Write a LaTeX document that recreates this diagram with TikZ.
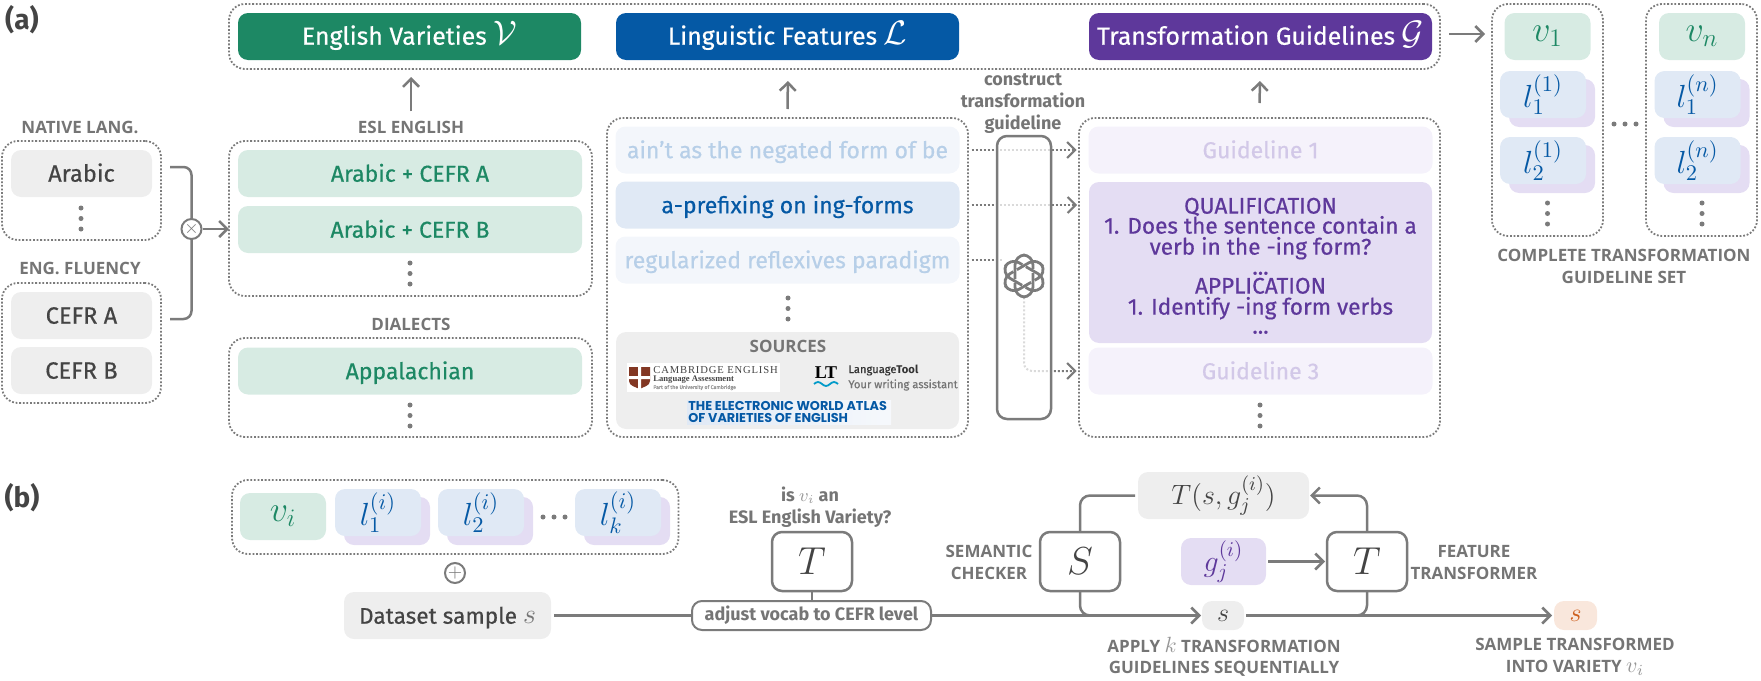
\documentclass[tikz,border=0pt]{standalone}
\usepackage{fix-cm}
\usepackage[no-math]{fontspec}
\setmainfont{Fira Sans}[UprightFeatures={RawFeature={embolden=0.5}}]
\newfontfamily\capsfont{Open Sans}
\newfontfamily\crestfont{Liberation Serif}
\newfontfamily\crestcaps[LetterSpace=8]{Liberation Serif}
\newfontfamily\atlasfont{Poppins}
\usetikzlibrary{arrows.meta, positioning, fit, shapes.geometric}
\definecolor{dkgreen}{RGB}{29,136,100}
\definecolor{dkblue}{RGB}{5,89,165}
\definecolor{dkpurple}{RGB}{94,56,155}
\definecolor{ltgreen}{RGB}{215,235,227}
\definecolor{ltblue}{RGB}{224,233,245}
\definecolor{ltpurple}{RGB}{228,221,243}
\definecolor{faintblue}{RGB}{243,246,251}
\definecolor{faintpurple}{RGB}{245,242,251}
\definecolor{fadeblue}{RGB}{183,207,232}
\definecolor{fadepurple}{RGB}{210,200,232}
\definecolor{chipgray}{RGB}{238,238,238}
\definecolor{inkgray}{RGB}{68,68,68}
\definecolor{labelgray}{RGB}{117,117,117}
\definecolor{linegray}{RGB}{123,123,123}
\definecolor{mathgray}{RGB}{150,150,150}
\definecolor{chiporange}{RGB}{249,231,220}
\definecolor{inkorange}{RGB}{205,95,30}
\definecolor{shieldred}{RGB}{130,55,35}

\begin{document}
\begin{tikzpicture}[
		x=.5pt, y=-.5pt,
		>={Straight Barb[length=4pt,width=8pt]},
		base/.style = {inner sep=0pt, outer sep=0pt, rounded corners=5pt, align=center, text height=10.6pt, text depth=2.4pt},
		headbox/.style = {base, minimum width=171.5pt, minimum height=23.5pt, text=white, font=\fontsize{12.4}{14}\selectfont},
		widebox/.style = {base, minimum width=172pt, minimum height=23.5pt, font=\fontsize{11.5}{13}\selectfont},
		chipbox/.style = {base, fill=chipgray, text=inkgray, minimum width=70.5pt, minimum height=23.5pt, font=\fontsize{11.8}{13}\selectfont},
		eslbox/.style = {widebox, fill=ltgreen, text=dkgreen},
		dotbox/.style = {draw=linegray, line width=.9pt, dash pattern=on .9pt off .9pt, rounded corners=8pt, inner sep=0pt, outer sep=0pt},
		caplabel/.style = {inner sep=0pt, text=labelgray, align=center, font=\capsfont\bfseries\fontsize{8.5}{10.7}\selectfont},
		smalllabel/.style = {inner sep=0pt, text=labelgray, align=center, font=\bfseries\fontsize{9}{11}\selectfont},
		guideline/.style = {inner sep=0pt, text=dkpurple, text height=10pt, text depth=2.4pt, font=\fontsize{11.3}{13}\selectfont},
		cardfront/.style = {base, fill=ltblue, text=dkblue, minimum width=43pt, minimum height=23.5pt, text height=, text depth=, font=\fontsize{16}{18}\selectfont},
		cardback/.style = {base, fill=ltpurple, minimum width=43pt, minimum height=24pt, text height=, text depth=},
		varcard/.style = {base, fill=ltgreen, text=dkgreen, minimum width=43pt, minimum height=23.5pt, text height=, text depth=, font=\fontsize{18}{20}\selectfont},
		opbox/.style = {draw=linegray, line width=1.25pt, fill=white, rounded corners=5pt, inner sep=0pt, outer sep=0pt, minimum width=40pt, minimum height=29.5pt, text=inkgray, font=\fontsize{19.5}{22}\selectfont},
		link/.style = {draw=linegray, line width=1.25pt},
		dotlink/.style = {draw=linegray, line width=1pt, dash pattern=on 1pt off 1pt},
		roundop/.style = {circle, draw=linegray, line width=1pt, fill=white, inner sep=0pt, minimum size=10pt, text=linegray}
		]
		\useasboundingbox (0,0) rectangle (1761,680);

		% part a, headers
		\node (panela) [inner sep=0pt, text=inkgray, font=\bfseries\fontsize{14}{16}\selectfont] at (22,20) {(a)};
		\node (toppanel) [dotbox, fit={(229,4) (1440,69)}] {};
		\node (engvar) [headbox, fill=dkgreen] at (409.5,36.5) {English Varieties~{\fontsize{17}{17}\selectfont$\mathcal{V}$}};
		\node (lingfeat) [headbox, fill=dkblue, right=17.5pt of engvar] {Linguistic Features~{\fontsize{17}{17}\selectfont$\mathcal{L}$}};
		\node (transguide) [headbox, fill=dkpurple] at (1260.5,36.5) {Transformation Guidelines~{\fontsize{17}{17}\selectfont$\mathcal{G}$}};

		% native language and fluency
		\node (nativelabel) [caplabel] at (80,127) {NATIVE LANG.};
		\node (nativepanel) [dotbox, fit={(2,141) (161,240)}] {};
		\node (arabic) [chipbox] at (81.5,173.5) {Arabic};
		\node (fluencylabel) [caplabel] at (80,268) {ENG. FLUENCY};
		\node (fluencypanel) [dotbox, fit={(2,283) (161,403)}] {};
		\node (cefra) [chipbox] at (81.5,315.5) {CEFR A};
		\node (cefrb) [chipbox, below=4pt of cefra] {CEFR B};

		\coordinate (nativeout) at (170,167);
		\coordinate (fluencyout) at (170,319);
		\node (times) [roundop] at (191.5,229) {\fontsize{9}{9}\selectfont$\times$};
		\draw[link, rounded corners=4pt] (nativeout) -| (times.north);
		\draw[link, rounded corners=4pt] (fluencyout) -| (times.south);

		% esl and dialects
		\node (esllabel) [caplabel] at (411,127) {ESL ENGLISH};
		\node (eslpanel) [dotbox, fit={(229,141) (592,296)}] {};
		\node (esla) [eslbox] at (410,173.5) {Arabic + CEFR A};
		\node (eslb) [eslbox, below=4.5pt of esla] {Arabic + CEFR B};
		\node (dialectlabel) [caplabel] at (411,324) {DIALECTS};
		\node (dialectpanel) [dotbox, fit={(229,338) (592,437)}] {};
		\node (appalachian) [eslbox] at (410,371) {Appalachian};
		\draw[link, ->] (times.east) -- (eslpanel.west |- times.east);
		\draw[link, ->, shorten <=4.5pt, shorten >=4pt] (esllabel.north) -- (esllabel.north |- toppanel.south);

		% features
		\node (featpanel) [dotbox, fit={(607,118) (968,437)}] {};
		\node (ainfeat) [widebox, fill=faintblue, text=fadeblue] at (787.5,150) {ain’t as the negated form of be};
		\node (prefixfeat) [widebox, fill=ltblue, text=dkblue, below=4pt of ainfeat] {a-prefixing on ing-forms};
		\node (regfeat) [widebox, fill=faintblue, text=fadeblue, below=4pt of prefixfeat] {regularized reflexives paradigm};
		\draw[link, ->, shorten >=4pt] (featpanel.north) ++(0,-9) -- (788,73);

		% sources
		\node (sourcebox) [base, fill=chipgray, minimum width=171.5pt, minimum height=48.5pt] at (787.5,380.5) {};
		\node (sourcelabel) [caplabel] at (788,346) {SOURCES};
		\node (crestbox) [inner sep=0pt, fill=white, fit={(627,363) (780,392)}] {};
		\fill[shieldred] (629,367) -- (650,367) -- (650,381) .. controls (650,386) and (643,387) .. (639.5,389) .. controls (636,387) and (629,386) .. (629,381) -- cycle;
		\fill[white] (638,367) rectangle (641,389) (629,376) rectangle (650,379);
		\node (cambridge) [inner sep=0pt, anchor=west, text=inkgray, font=\crestcaps\fontsize{5.3}{6}\selectfont] at (653,370.5) {CAMBRIDGE ENGLISH};
		\node (assessment) [inner sep=0pt, anchor=west, text=inkgray, font=\crestfont\bfseries\fontsize{4.3}{5}\selectfont] at (653,379.5) {Language Assessment};
		\node (partof) [inner sep=0pt, anchor=west, text=mathgray, font=\fontsize{2.6}{3}\selectfont] at (653,387.5) {Part of the University of Cambridge};
		\node (ltlogo) [inner sep=0pt, text=black, font=\crestfont\bfseries\fontsize{9}{9}\selectfont] at (826,372.5) {LT};
		\draw[dkblue!60!cyan, line width=.9pt] (814,384) sin (818,382) cos (822,384) sin (826,386) cos (830,384) sin (834,382) cos (838,384);
		\node (langtool) [inner sep=0pt, anchor=west, text=black!80, font=\fontsize{5.6}{7}\selectfont] at (848,370) {Language\textbf{Tool}};
		\node (assistant) [inner sep=0pt, anchor=west, text=labelgray, font=\fontsize{5.6}{7}\selectfont] at (848,385) {Your writing assistant};
		\node (atlas) [inner sep=0pt, fit={(687,400) (891,424)}, left color=ltblue, right color=ltblue!30] {};
		\node (atlastext) [inner sep=0pt, anchor=north west, align=left, text=dkblue, font=\atlasfont\bfseries\fontsize{6.4}{6.2}\selectfont] at (688,400.5) {THE ELECTRONIC WORLD ATLAS\\OF VARIETIES OF ENGLISH};

		% guidelines
		\node (guidepanel) [dotbox, fit={(1079,118) (1440,437)}] {};
		\node (guide1) [widebox, fill=faintpurple, text=fadepurple] at (1260.5,150) {Guideline 1};
		\node (bigguide) [base, fill=ltpurple, minimum width=171.5pt, minimum height=80.5pt] at (1260.5,262.5) {};
		\foreach \ypos/\txt in {206/QUALIFICATION, 226/{1. Does the sentence contain a}, 247/{verb in the -ing form?}, 286/APPLICATION, 307/{1. Identify -ing form verbs}}
			\node (gline\ypos) [guideline] at (1260.5,\ypos) {\txt};
		\foreach \ypos in {267,326}
			\node (gdots\ypos) [guideline] at (1260.5,\ypos) {...};
		\node (guide3) [widebox, fill=faintpurple, text=fadepurple] at (1260.5,371) {Guideline 3};
		\draw[link, ->, shorten <=4pt, shorten >=4pt] (guidepanel.north) ++(0,-7) -- (1260,73);

		% construct step
		\node (constructlabel) [smalllabel] at (1023,104) {construct\\transformation\\guideline};
		\draw[dotlink, ->, shorten <=6pt, shorten >=6pt] (ainfeat.east) -- (guide1.west);
		\draw[dotlink, ->, shorten <=6pt, shorten >=6pt] (prefixfeat.east) -- (prefixfeat.east -| bigguide.west);
		\node (openai) [inner sep=0pt, minimum size=21pt] at (1024,276) {};
		\draw[dotlink, shorten <=6pt] (regfeat.east) -- (regfeat.east -| openai.west);
		\draw[dotlink, ->, rounded corners=4pt, shorten >=6pt] (openai.south) |- (guide3.west);
		\node (modelbar) [draw=linegray, line width=1.25pt, fill=white, fill opacity=.72, rounded corners=5pt, inner sep=0pt, fit={(997,136) (1051,419)}] {};
		\begin{scope}[shift={(openai.center)}]
			\foreach \ang in {0,60,...,300}
				\draw[linegray, line width=1.4pt, rounded corners=5pt, rotate=\ang] (-9,3) -- (-9,-21) -- (9,-21) -- (9,-7);
		\end{scope}

		% complete set
		\draw[link, ->] (toppanel.east |- transguide) ++(9,-2.5) -- (1485,34);
		\node (firstset) [dotbox, fit={(1492,4) (1603,236)}] {};
		\node (lastset) [dotbox, fit={(1646,4) (1757,236)}] {};
		\node (vfirst) [varcard] at (1547.5,36.5) {$v_1$};
		\node (vlast) [varcard] at (1702,36.5) {$v_n$};
		\foreach \nm/\xpos/\ypos/\lab in {fa/1543/94.5/{l_1^{(1)}}, fb/1543/160.5/{l_2^{(1)}}, na/1697.5/94.5/{l_1^{(n)}}, nb/1697.5/160.5/{l_2^{(n)}}, ia/378/512.5/{l_1^{(i)}}, ib/481/512.5/{l_2^{(i)}}, ik/618/512.5/{l_k^{(i)}}} {
			\node (back\nm) [cardback] at (\xpos+9,\ypos+8.5) {};
			\node (card\nm) [cardfront] at (\xpos,\ypos) {$\lab$};
		}
		\node (setlabel) [caplabel] at (1624,266.5) {COMPLETE TRANSFORMATION\\GUIDELINE SET};

		% vertical and horizontal dots
		\foreach \xpos/\ypos in {81/208, 410/263, 410/405, 788/298, 1260/405, 1547.5/203, 1702/203}
			\foreach \off in {0,10.5,21}
				\fill[linegray] (\xpos,\ypos+\off) circle (1.25pt);
		\foreach \xpos in {1614,1625,1636}
			\fill[linegray] (\xpos,124) circle (1.25pt);
		\foreach \xpos in {543,554,565}
			\fill[linegray] (\xpos,517) circle (1.25pt);

		% part b
		\node (panelb) [inner sep=0pt, text=inkgray, font=\bfseries\fontsize{14}{16}\selectfont] at (22,498) {(b)};
		\node (samplepanel) [dotbox, fit={(232,480) (678.5,554)}] {};
		\node (vari) [varcard] at (283,516.5) {$v_i$};
		\node (oplus) [roundop] at (455,573) {\fontsize{9}{9}\selectfont$+$};
		\node (dataset) [base, fill=chipgray, text=inkgray, minimum width=103.5pt, minimum height=23.5pt, font=\fontsize{11.3}{13}\selectfont] at (447.5,615.5) {Dataset sample~{\fontsize{14}{14}\selectfont\textcolor{labelgray}{$s$}}};
		\node (adjust) [draw=linegray, line width=1pt, rounded corners=5pt, inner sep=0pt, minimum width=119.5pt, minimum height=14.5pt, text=labelgray, font=\bfseries\fontsize{9}{10}\selectfont] at (811.5,615.5) {adjust vocab to CEFR level};
		\node (eslquery) [smalllabel] at (810,507.5) {is \textcolor{mathgray}{$v_i$} an\\ESL English Variety?};
		\node (tcheck) [opbox] at (812,561.5) {$T$};
		\node (schecker) [opbox] at (1080,561.5) {$S$};
		\node (ttrans) [opbox] at (1367,561.5) {$T$};
		\node (tsg) [base, fill=chipgray, text=inkgray, minimum width=85.5pt, minimum height=23.5pt, text height=, text depth=, font=\fontsize{14}{16}\selectfont] at (1223.5,495.5) {$T(s,g_j^{(i)})$};
		\node (gbox) [base, fill=ltpurple, text=dkpurple, minimum width=42.5pt, minimum height=23.5pt, text height=, text depth=, font=\fontsize{15}{17}\selectfont] at (1223.5,561.5) {$g_j^{(i)}$};
		\node (smid) [base, fill=chipgray, text=inkgray, minimum width=21pt, minimum height=14.5pt, text height=, text depth=, font=\fontsize{13}{15}\selectfont] at (1223,615.5) {$s$};
		\node (sout) [base, fill=chiporange, text=inkorange, minimum width=21.5pt, minimum height=14.5pt, text height=, text depth=, font=\fontsize{13}{15}\selectfont] at (1575.5,615.5) {$s$};

		\draw[link, shorten <=1.5pt] (dataset.east) -- (adjust.west);
		\draw[link] (tcheck.south) -- (tcheck.south |- adjust.north);
		\draw[link, ->, shorten >=.5pt] (adjust.east) -- (smid.west);
		\draw[link, rounded corners=5pt, shorten >=1.5pt] (schecker.north) |- (tsg.west);
		\draw[link, ->, rounded corners=5pt, shorten >=.5pt] (ttrans.north) |- (tsg.east);
		\draw[link, ->, shorten <=1pt, shorten >=1pt] (gbox.east) -- (ttrans.west);
		\draw[link, rounded corners=5pt, shorten >=20pt] (schecker.south) |- (smid.west);
		\draw[link, ->, shorten <=1pt, shorten >=1pt] (smid.east) -- (sout.west);
		\draw[link, rounded corners=5pt, shorten >=20pt] (ttrans.south) |- (smid.east);

		\node (semlabel) [caplabel] at (989,562.5) {SEMANTIC\\CHECKER};
		\node (featlabel) [caplabel] at (1474,562.5) {FEATURE\\TRANSFORMER};
		\node (applylabel) [caplabel] at (1224,657) {APPLY {\fontsize{11}{11}\selectfont\mdseries\textcolor{mathgray}{$k$}} TRANSFORMATION\\GUIDELINES SEQUENTIALLY};
		\node (outlabel) [caplabel] at (1575,657) {SAMPLE TRANSFORMED\\INTO VARIETY {\fontsize{11}{11}\selectfont\mdseries\textcolor{mathgray}{$v_i$}}};
	\end{tikzpicture}
\end{document}
